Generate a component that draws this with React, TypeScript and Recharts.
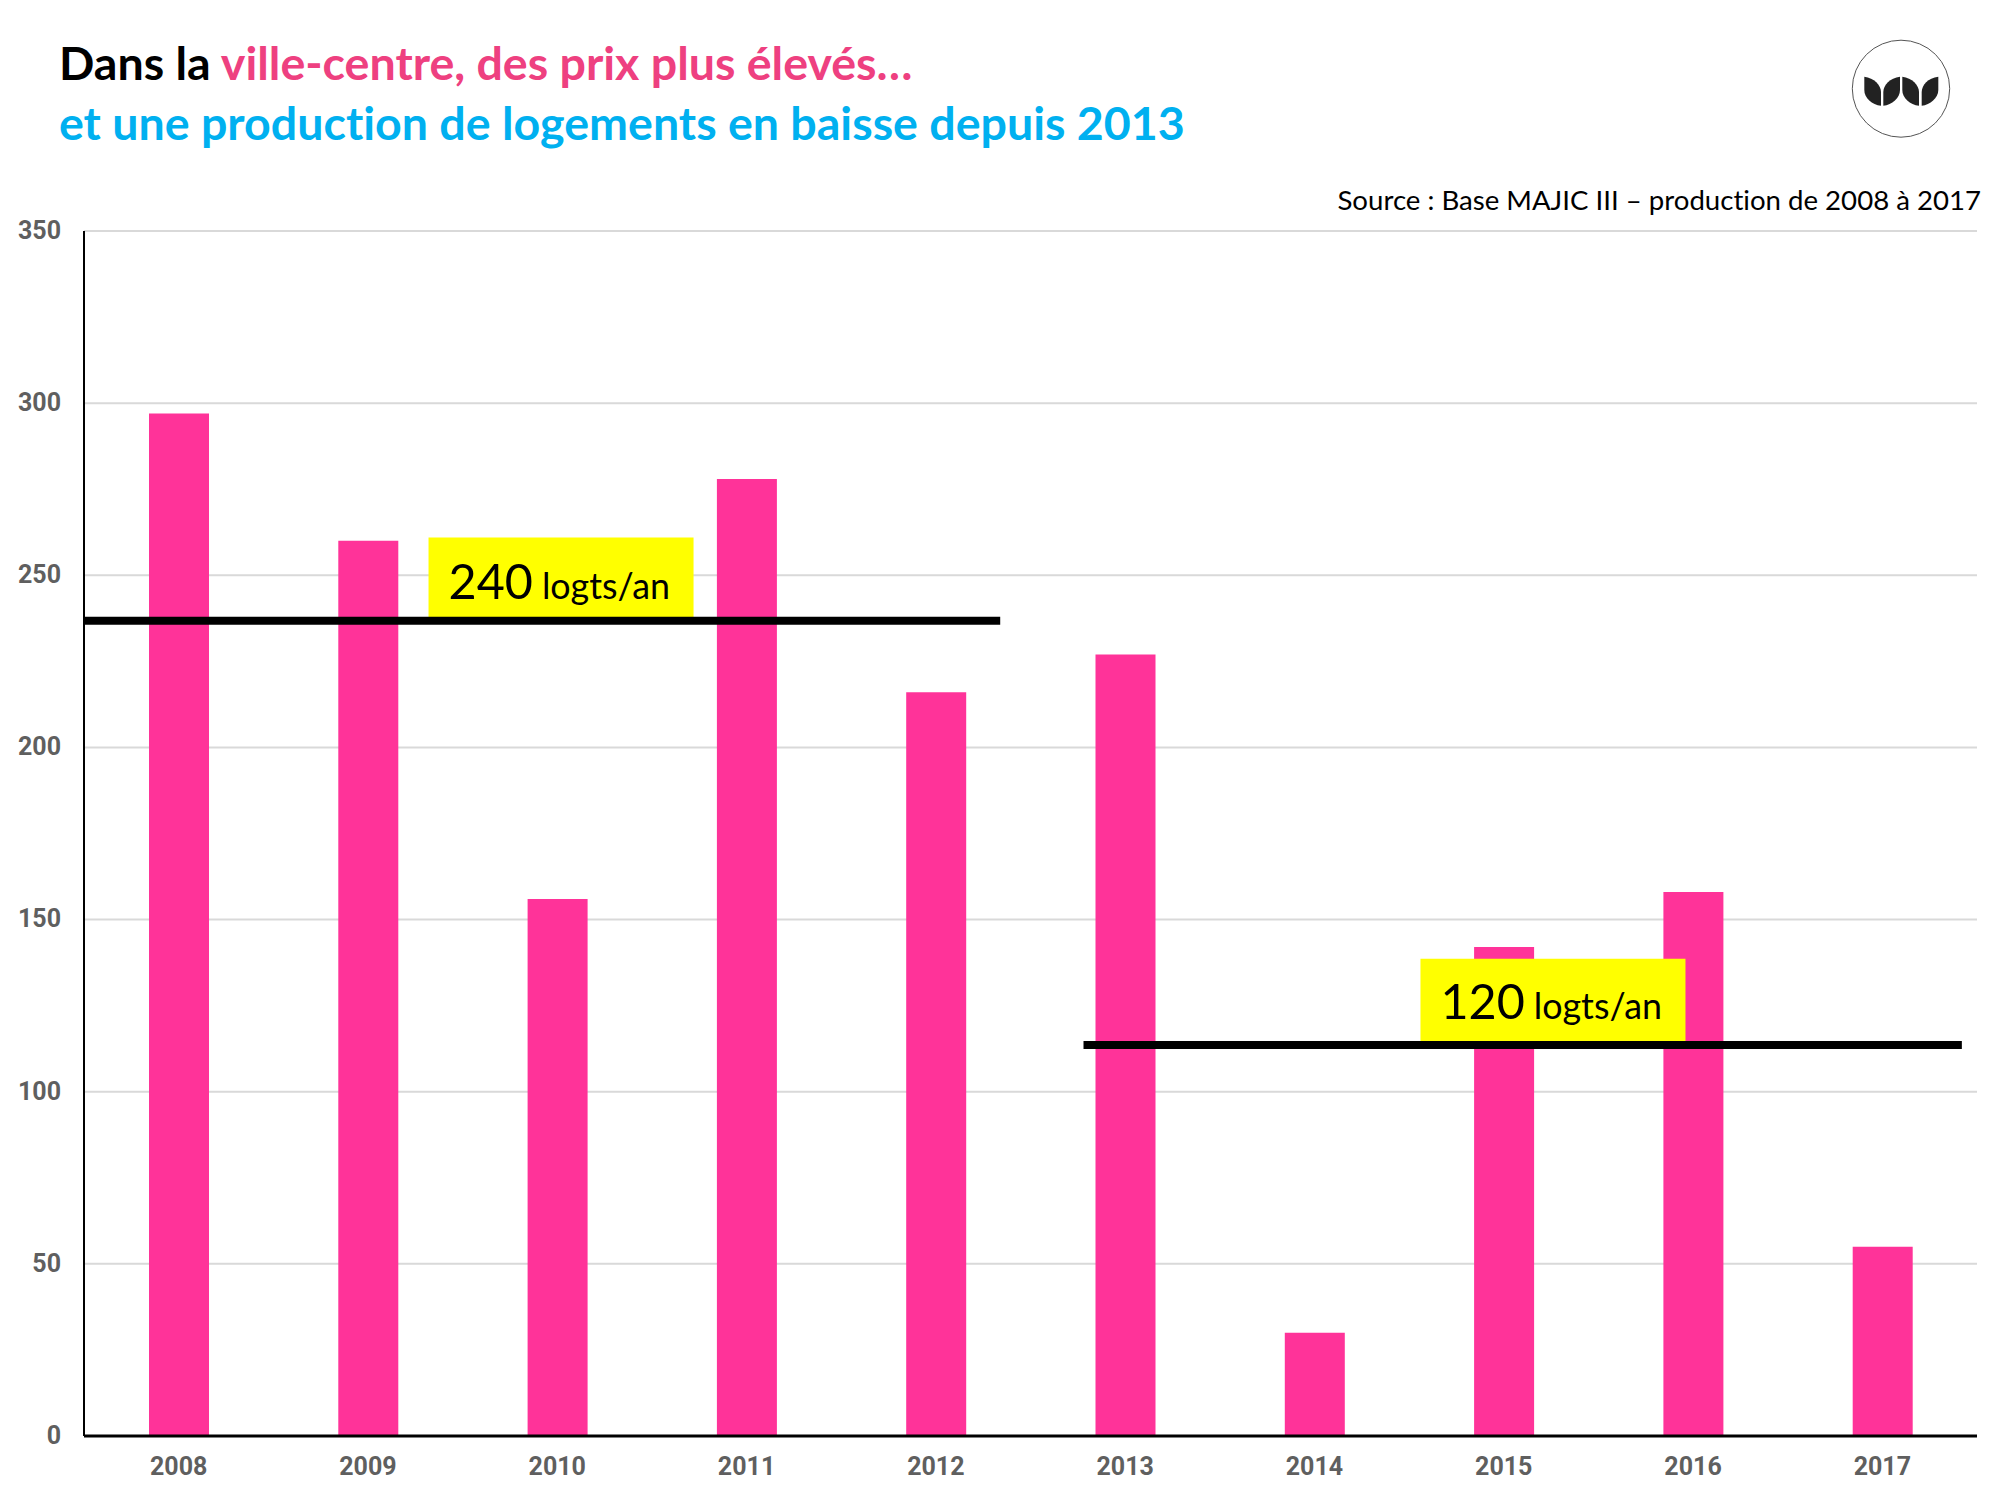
import { Bar, BarChart, CartesianGrid, ReferenceArea, ReferenceLine, XAxis, YAxis } from "recharts"

const years = [2008, 2009, 2010, 2011, 2012, 2013, 2014, 2015, 2016, 2017]
const production = [297, 260, 156, 278, 216, 227, 30, 142, 158, 55]
const yTicks = [0, 50, 100, 150, 200, 250, 300, 350]

const averageBefore = 236.8
const averageAfter = 113.6
const labelBefore = "240"
const labelAfter = "120"
const labelUnit = "logts/an"

const data = years.map((year, i) => ({ year, value: production[i] }))

const tickStyle = { fontFamily: "Roboto", fontWeight: 700, fontSize: 25, fill: "#5f5f5f" }
const noLigatures = { fontVariantLigatures: "none" as const }

const calloutLabel = (big: string, lift: number) => (props: any) => {
  const { x, y, height } = props.viewBox
  return (
    <text x={x + 20} y={y + height - lift} fontFamily="Lato" fill="#000" style={noLigatures}>
      <tspan fontSize={48.5}>{big}</tspan>
      <tspan dx={9} fontSize={35.8}>{labelUnit}</tspan>
    </text>
  )
}

const Logo = () => (
  <g>
    <ellipse cx={1901} cy={88.7} rx={48.7} ry={48.5} fill="none" stroke="#555" strokeWidth={1} />
    <g fill="#222">
      <path d="M1864.3 76.7 C1874 78 1881 85 1881 92 L1881 105.7 C1872 105 1864.3 98 1864.3 90 Z" />
      <path d="M1900 76.7 C1890 78 1883.3 85 1883.3 92 L1883.3 105.7 C1892 105 1900 98 1900 90 Z" />
      <path d="M1902.3 76.7 C1912 78 1919 85 1919 92 L1919 105.7 C1910 105 1902.3 98 1902.3 90 Z" />
      <path d="M1938.3 76.7 C1928 78 1921.7 85 1921.7 92 L1921.7 105.7 C1930 105 1938.3 98 1938.3 90 Z" />
    </g>
  </g>
)

export default function App() {
  return (
    <div style={{ position: "absolute", left: 0, top: 0, width: 2000, height: 1500, background: "#fff" }}>
      <BarChart
        width={2000}
        height={1500}
        data={data}
        margin={{ top: 231, right: 23, bottom: 24, left: 44 }}
      >
        <CartesianGrid horizontal vertical={false} stroke="#d9d9d9" strokeWidth={2} />
        <XAxis
          dataKey="year"
          type="number"
          domain={[2007.5, 2017.5]}
          ticks={years}
          interval={0}
          height={40}
          tickSize={0}
          tickMargin={21}
          tickLine={false}
          axisLine={{ stroke: "#000", strokeWidth: 3 }}
          tick={tickStyle}
        />
        <YAxis
          domain={[0, 350]}
          ticks={yTicks}
          width={40}
          tickSize={0}
          tickMargin={23}
          tickLine={false}
          axisLine={{ stroke: "#000", strokeWidth: 2 }}
          tick={{ ...tickStyle, dy: -1 }}
        />
        <Bar dataKey="value" fill="#ff3399" barSize={60} isAnimationActive={false} />
        <ReferenceArea
          x1={2009.32}
          x2={2010.72}
          y1={237}
          y2={261}
          fill="#ffff00"
          fillOpacity={1}
          stroke="none"
          zIndex={350}
          label={calloutLabel(labelBefore, 21)}
        />
        <ReferenceArea
          x1={2014.56}
          x2={2015.96}
          y1={114}
          y2={138.6}
          fill="#ffff00"
          fillOpacity={1}
          stroke="none"
          zIndex={350}
          label={calloutLabel(labelAfter, 24.5)}
        />
        <ReferenceLine
          segment={[{ x: 2007.5, y: averageBefore }, { x: 2012.34, y: averageBefore }]}
          stroke="#000"
          strokeWidth={8}
          zIndex={400}
        />
        <ReferenceLine
          segment={[{ x: 2012.78, y: averageAfter }, { x: 2017.42, y: averageAfter }]}
          stroke="#000"
          strokeWidth={8}
          zIndex={400}
        />
      </BarChart>
      <svg width={2000} height={1500} style={{ position: "absolute", left: 0, top: 0, pointerEvents: "none" }}>
        <text x={59} y={80} fontFamily="Lato" fontWeight={700} fontSize={46.55} fill="#000" style={noLigatures}>
          Dans la <tspan fill="#ee4080">ville-centre, des prix plus élevés…</tspan>
        </text>
        <text x={59} y={140} fontFamily="Lato" fontWeight={700} fontSize={46.55} fill="#00b0f0" style={noLigatures}>
          et une production de logements en baisse depuis 2013
        </text>
        <text x={1981} y={210} textAnchor="end" fontFamily="Lato" fontSize={27.6} fill="#000" style={noLigatures}>
          Source : Base MAJIC III – production de 2008 à 2017
        </text>
        <Logo />
      </svg>
    </div>
  )
}
